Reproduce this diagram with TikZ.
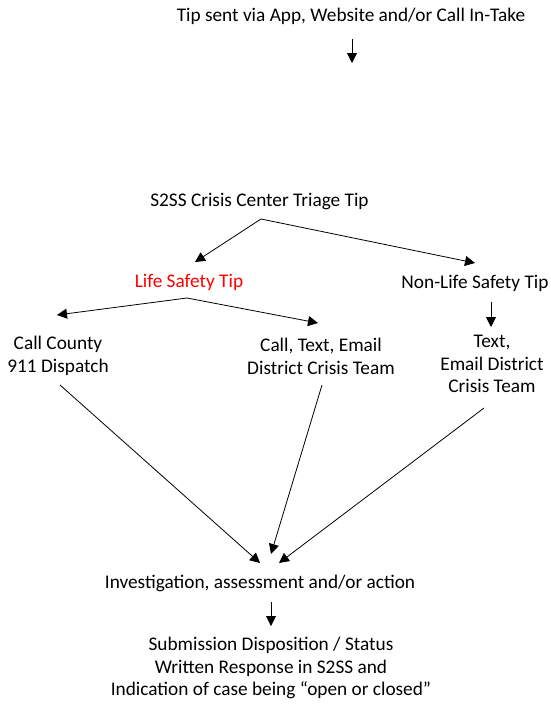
\documentclass[tikz,border=0pt]{standalone}
\usepackage{fontspec}
\setmainfont{Carlito}
\usetikzlibrary{arrows.meta}
\begin{document}
\begin{tikzpicture}[x=1pt,y=-1pt,
  lbl/.style={font=\fontsize{19.3}{22.8}\selectfont, align=center, inner sep=0pt, anchor=center},
  conn/.style={draw, line width=0.8pt, -{Triangle[length=10pt,width=10pt]}}]
\useasboundingbox (0,0) rectangle (550,704);
\node[lbl] (tip) at (351,16) {Tip sent via App, Website and/or Call In-Take};
\node[lbl] (tri) at (259.5,202) {S2SS Crisis Center Triage Tip};
\node[lbl, text={rgb,255:red,255;green,0;blue,0}] (life) at (189,282) {Life Safety Tip};
\node[lbl] (nonlife) at (475,283) {Non-Life Safety Tip};
\node[lbl] (county) at (58,356) {Call County\\911 Dispatch};
\node[lbl] (cte) at (321,356) {Call, Text, Email\\District Crisis Team};
\node[lbl] (te) at (492,364) {Text,\\Email District\\Crisis Team};
\node[lbl] (inv) at (260,583) {Investigation, assessment and/or action};
\node[lbl] (sub) at (271,668) {Submission Disposition / Status\\Written Response in S2SS and\\Indication of case being “open or closed”};

\coordinate (tipS) at (352,39);
\coordinate (triInT) at (352,63);
\coordinate (triS) at (261,219);
\coordinate (lifeN) at (195,262);
\coordinate (nonN) at (475,263);
\coordinate (lifeS) at (187,298);
\coordinate (countyN) at (57,315);
\coordinate (cteN) at (318,323);
\coordinate (nonS) at (491,302);
\coordinate (teN) at (491,327);
\coordinate (countyS) at (60,385);
\coordinate (cteS) at (322,385);
\coordinate (teS) at (484,408);
\coordinate (invA) at (260,563);
\coordinate (invB) at (271,554);
\coordinate (invC) at (279,563);
\coordinate (invS) at (271,602);
\coordinate (subN) at (271,626);

\draw[conn] (tipS) -- (triInT);
\draw[conn] (triS) -- (lifeN);
\draw[conn] (triS) -- (nonN);
\draw[conn] (lifeS) -- (countyN);
\draw[conn] (lifeS) -- (cteN);
\draw[conn] (nonS) -- (teN);
\draw[conn] (countyS) -- (invA);
\draw[conn] (cteS) -- (invB);
\draw[conn] (teS) -- (invC);
\draw[conn] (invS) -- (subN);
\end{tikzpicture}
\end{document}
